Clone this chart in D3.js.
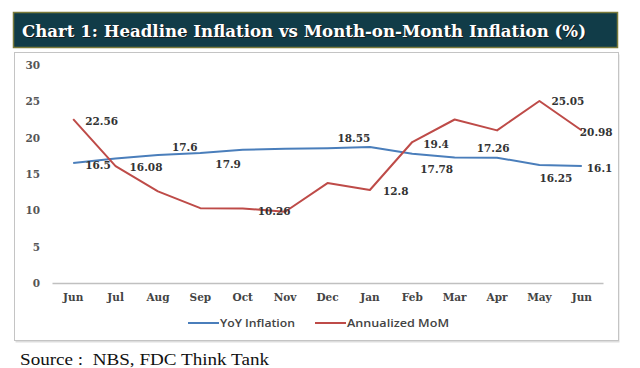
<!DOCTYPE html>
<html>
<head>
<meta charset="utf-8">
<script src="https://cdn.jsdelivr.net/npm/d3@7"></script>
<style>
  body { margin: 0; background: #fff; }
  svg { display: block; }
</style>
</head>
<body>
<svg id="chart" width="640" height="368"></svg>
<script>
// data
var months = ["Jun", "Jul", "Aug", "Sep", "Oct", "Nov", "Dec", "Jan", "Feb", "Mar", "Apr", "May", "Jun"];
var yoy = [16.5, 17.13, 17.6, 17.9, 18.33, 18.48, 18.55, 18.72, 17.78, 17.26, 17.24, 16.25, 16.1];
var mom = [22.56, 16.08, 12.6, 10.3, 10.26, 9.8, 13.75, 12.8, 19.4, 22.5, 21.0, 25.05, 20.98];
var yTicks = [0, 5, 10, 15, 20, 25, 30];
var seriesNames = ["YoY Inflation", "Annualized MoM"];

// which points carry a value label, and where the label sits next to the point
var yoyLabels = [{i: 0, dx: 12, dy: 2}, {i: 2, dx: 14, dy: -8}, {i: 3, dx: 15, dy: 11}, {i: 6, dx: 10, dy: -10},
                 {i: 8, dx: 8, dy: 16}, {i: 9, dx: 22, dy: -9}, {i: 11, dx: 0, dy: 13}, {i: 12, dx: 5, dy: 2}];
var momLabels = [{i: 0, dx: 12, dy: 2}, {i: 1, dx: 14, dy: 1}, {i: 4, dx: 15, dy: 3}, {i: 7, dx: 13, dy: 1},
                 {i: 8, dx: 11, dy: 2}, {i: 11, dx: 12, dy: 0}, {i: 12, dx: -2, dy: 2}];

var colors = ["#4a7ebb", "#be4b48"];

var svg = d3.select("#chart");

// title bar
svg.append("rect")
    .attr("x", 13.5).attr("y", 12.5).attr("width", 604).attr("height", 35)
    .attr("fill", "#113c48").attr("stroke", "#7a7a3a").attr("stroke-width", 1.5);

var title = "Chart 1: Headline Inflation vs Month-on-Month Inflation (%)";
[["#1a1a1a", 1], ["#fff", 0]].forEach(function(t) {
    svg.append("text")
        .attr("x", 22 + t[1]).attr("y", 37 + t[1])
        .attr("fill", t[0])
        .attr("font-family", "DejaVu Serif").attr("font-weight", "bold").attr("font-size", 16.5)
        .attr("textLength", 564).attr("lengthAdjust", "spacingAndGlyphs")
        .text(title);
});

// chart box
svg.append("rect")
    .attr("x", 15.5).attr("y", 54.5).attr("width", 604).attr("height", 288)
    .attr("fill", "#ddd");
svg.append("rect")
    .attr("x", 14.5).attr("y", 52.5).attr("width", 604).attr("height", 288)
    .attr("fill", "#fff").attr("stroke", "#c4c4c4");

var x = d3.scaleBand()
    .domain(d3.range(months.length))
    .range([52, 603]);

var y = d3.scaleLinear()
    .domain([0, 30])
    .range([283, 65]);

function cx(i) { return x(i) + x.bandwidth() / 2; }

// y axis labels, no line
var yAxis = svg.append("g")
    .attr("transform", "translate(40,0)")
    .call(d3.axisLeft(y).tickValues(yTicks).tickSize(0).tickPadding(0));
yAxis.select(".domain").remove();
yAxis.selectAll("text")
    .attr("fill", "#555")
    .attr("font-family", "DejaVu Serif").attr("font-weight", "bold").attr("font-size", 10.5);

// x axis
var xAxis = svg.append("g")
    .attr("transform", "translate(0,283)")
    .call(d3.axisBottom(x).tickFormat(function(i) { return months[i]; }).tickSize(0).tickPadding(11));
xAxis.select(".domain").attr("stroke", "#c0c0c0").attr("stroke-width", 1.5);
xAxis.selectAll("text")
    .attr("fill", "#444")
    .attr("font-family", "DejaVu Serif").attr("font-weight", "bold").attr("font-size", 10.5);

var line = d3.line()
    .x(function(d, i) { return cx(i); })
    .y(function(d) { return y(d); });

[yoy, mom].forEach(function(s, k) {
    svg.append("path")
        .datum(s)
        .attr("fill", "none")
        .attr("stroke", colors[k])
        .attr("stroke-width", 2)
        .attr("stroke-linejoin", "round")
        .attr("d", line);
});

// value labels
[[yoy, yoyLabels], [mom, momLabels]].forEach(function(p) {
    svg.append("g").selectAll("text")
        .data(p[1])
        .enter().append("text")
        .attr("x", function(d) { return cx(d.i) + d.dx; })
        .attr("y", function(d) { return y(p[0][d.i]) + d.dy; })
        .attr("dy", "0.35em")
        .attr("fill", "#333")
        .attr("font-family", "DejaVu Serif").attr("font-weight", "bold").attr("font-size", 10.5)
        .text(function(d) { return p[0][d.i]; });
});

// legend
var legend = svg.append("g").attr("transform", "translate(0,323)");
var legX = [188, 315];
var legW = [75, 102];
seriesNames.forEach(function(name, k) {
    legend.append("line")
        .attr("x1", legX[k]).attr("x2", legX[k] + 31)
        .attr("stroke", colors[k]).attr("stroke-width", 2);
    legend.append("text")
        .attr("x", legX[k] + 32).attr("dy", "0.35em")
        .attr("fill", "#444")
        .attr("font-family", "Open Sans").attr("font-weight", 600).attr("font-size", 11)
        .attr("textLength", legW[k]).attr("lengthAdjust", "spacingAndGlyphs")
        .text(name);
});

// source note
svg.append("text")
    .attr("x", 20).attr("y", 365)
    .attr("fill", "#111")
    .attr("font-family", "Liberation Serif").attr("font-size", 17.5)
    .attr("textLength", 249).attr("lengthAdjust", "spacingAndGlyphs")
    .text("Source :\u00a0 NBS, FDC Think Tank");
</script>
</body>
</html>
